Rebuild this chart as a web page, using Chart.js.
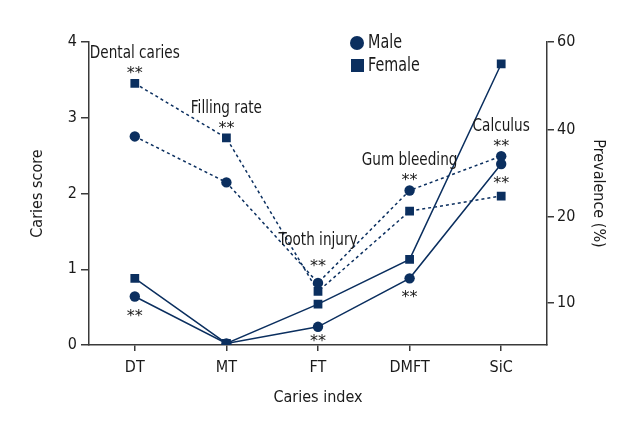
<!DOCTYPE html>
<html>
<head>
<meta charset="utf-8">
<script src="https://cdn.jsdelivr.net/npm/chart.js@4"></script>
<style>
html, body { margin: 0; padding: 0; background: #fff; }
</style>
</head>
<body>
<canvas id="CariesChart" width="640" height="440"></canvas>
<script>
// categories
const categories = ['DT', 'MT', 'FT', 'DMFT', 'SiC'];

// caries score, left axis (solid lines)
const male_score = [0.64, 0.02, 0.24, 0.88, 2.39];
const female_score = [0.88, 0.02, 0.54, 1.13, 3.71];

// prevalence, right axis (dashed lines), in axis units
const male_prev = [41.3, 32.2, 12.3, 30.6, 37.4];
const female_prev = [51.8, 41.0, 10.6, 26.5, 29.5];

// tick labels
const score_ticks = [0, 1, 2, 3, 4];
const prev_tick_values = [8.4, 25.4, 42.7, 60];
const prev_tick_labels = ['10', '20', '40', '60'];

// annotations
const prev_names = ['Dental caries', 'Filling rate', 'Tooth injury', 'Gum bleeding', 'Calculus'];
const score_sig = [true, false, true, true, true];

const NAVY = '#0b2f5f';
const TEXT = '#1a1a1a';
const AXIS = '#3a3a3a';
const FONT = "'DejaVu Sans Condensed', 'DejaVu Sans', sans-serif";

// narrow text: squeeze the condensed face a bit more
function narrowText(ctx, text, x, y, size, align) {
    ctx.save();
    ctx.font = size + 'px ' + FONT;
    ctx.textAlign = align || 'center';
    ctx.textBaseline = 'middle';
    ctx.translate(x, y);
    ctx.scale(0.84, 1);
    ctx.fillText(text, 0, 0);
    ctx.restore();
}

function stars(ctx, x, y) {
    ctx.font = '16px "DejaVu Sans"';
    ctx.textAlign = 'center';
    ctx.textBaseline = 'alphabetic';
    ctx.fillText('**', x, y + 8);
}

const annotate = {
    id: 'annotate',
    afterDatasetsDraw(chart) {
        const ctx = chart.ctx;
        const xs = chart.scales.x, yl = chart.scales.y, yr = chart.scales.y1;
        ctx.save();
        ctx.fillStyle = TEXT;
        categories.forEach((c, i) => {
            const px = xs.getPixelForValue(i);
            const top = yr.getPixelForValue(Math.max(male_prev[i], female_prev[i]));
            const lift = c == 'FT' ? 20 : 13;
            stars(ctx, px, top - lift);
            narrowText(ctx, prev_names[i], px, top - lift - (c == 'FT' ? 23 : 17), 18);
            if (score_sig[i]) {
                const below = Math.min(yl.getPixelForValue(male_score[i]) + 16, chart.chartArea.bottom - 7);
                stars(ctx, px, below);
            }
        });

        // legend
        ctx.fillStyle = NAVY;
        ctx.beginPath();
        ctx.arc(357, 43, 7, 0, Math.PI * 2);
        ctx.fill();
        ctx.fillRect(351, 59, 13, 13);
        ctx.fillStyle = TEXT;
        narrowText(ctx, 'Male', 368, 43, 19, 'left');
        narrowText(ctx, 'Female', 368, 66, 19, 'left');
        ctx.restore();
    }
};

function series(label, data, axis, style, dashed) {
    return {
        label: label,
        data: data,
        yAxisID: axis,
        borderColor: NAVY,
        backgroundColor: NAVY,
        pointBackgroundColor: NAVY,
        pointBorderWidth: 0,
        pointStyle: style,
        pointRadius: style == 'rect' ? 6.2 : 5.2,
        borderWidth: 1.5,
        borderDash: dashed ? [3, 3] : [],
        fill: false,
        tension: 0
    };
}

const tickFont = { family: FONT, size: 16 };
const titleFont = { family: FONT, size: 16 };

const CANVAS = document.getElementById('CariesChart');
new Chart(CANVAS, {
    type: 'line',
    data: {
        labels: categories,
        datasets: [
            series('Male score', male_score, 'y', 'circle', false),
            series('Female score', female_score, 'y', 'rect', false),
            series('Male prevalence', male_prev, 'y1', 'circle', true),
            series('Female prevalence', female_prev, 'y1', 'rect', true)
        ]
    },
    options: {
        responsive: false,
        animation: false,
        layout: { padding: { top: 42, left: 0, right: 0, bottom: 0 } },
        plugins: {
            legend: { display: false },
            tooltip: { enabled: false }
        },
        scales: {
            x: {
                offset: true,
                grid: { drawOnChartArea: false, tickLength: 6, color: AXIS, lineWidth: 1.5 },
                border: { color: AXIS, width: 1.5 },
                ticks: { color: TEXT, font: tickFont, padding: 7 },
                title: { display: true, text: 'Caries index', color: TEXT, font: titleFont, padding: { top: 0, bottom: 33 } },
                afterFit: s => { s.height = 95; }
            },
            y: {
                position: 'left',
                min: 0,
                max: 4,
                afterBuildTicks: s => { s.ticks = score_ticks.map(v => ({ value: v })); },
                grid: { drawOnChartArea: false, tickLength: 8, color: AXIS, lineWidth: 1.5 },
                border: { color: AXIS, width: 1.5 },
                ticks: { color: TEXT, font: tickFont, padding: 4 },
                title: { display: true, text: 'Caries score', color: TEXT, font: titleFont, padding: { top: 28, bottom: 0 } },
                afterFit: s => { s.width = 89; }
            },
            y1: {
                position: 'right',
                min: 0,
                max: 60,
                afterBuildTicks: s => { s.ticks = prev_tick_values.map(v => ({ value: v })); },
                grid: { drawOnChartArea: false, tickLength: 7, color: AXIS, lineWidth: 1.5 },
                border: { color: AXIS, width: 1.5 },
                ticks: { color: TEXT, font: tickFont, padding: 3, callback: (v, i) => prev_tick_labels[i] },
                title: { display: true, text: 'Prevalence (%)', color: TEXT, font: titleFont, padding: { top: 32, bottom: 0 } },
                afterFit: s => { s.width = 93; }
            }
        }
    },
    plugins: [annotate]
});
</script>
</body>
</html>
